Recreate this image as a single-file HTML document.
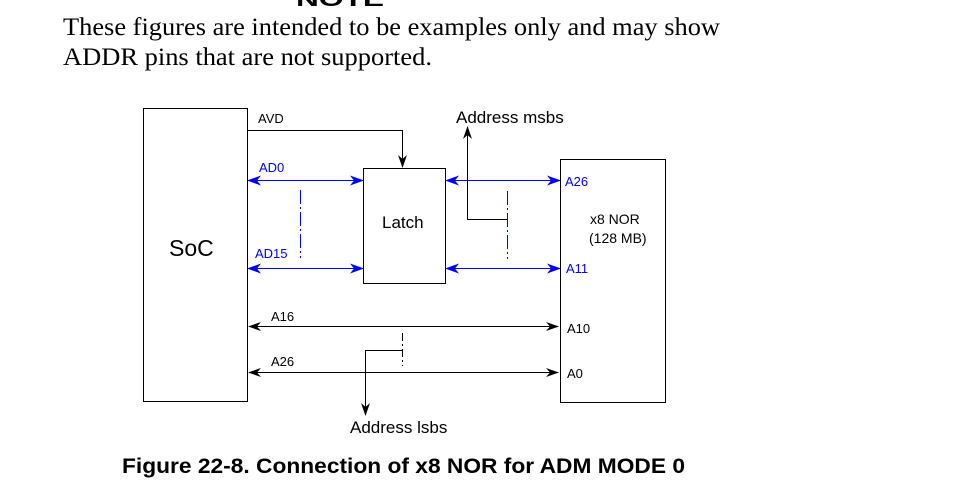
<!DOCTYPE html>
<html><head><style>
html,body{margin:0;padding:0;background:#fff;width:976px;height:492px;overflow:hidden}
</style></head><body>
<svg width="976" height="492" viewBox="0 0 976 492" xmlns="http://www.w3.org/2000/svg">
<defs>
<marker id="ab" markerWidth="14" markerHeight="10" refX="13" refY="5" orient="auto-start-reverse" markerUnits="userSpaceOnUse"><path d="M0,0 L14,5 L0,10 L4,5 Z" fill="#0000ff"/></marker>
<marker id="ak" markerWidth="13" markerHeight="9" refX="12" refY="4.5" orient="auto-start-reverse" markerUnits="userSpaceOnUse"><path d="M0,0 L13,4.5 L0,9 L4,4.5 Z" fill="#000"/></marker>
</defs>
<text x="296" y="6" font-family="Liberation Sans, sans-serif" font-weight="bold" font-size="20" textLength="88" lengthAdjust="spacingAndGlyphs">NOTE</text>
<text x="63" y="35" font-family="Liberation Serif, serif" font-size="25" textLength="657" lengthAdjust="spacingAndGlyphs">These figures are intended to be examples only and may show</text>
<text x="63" y="65" font-family="Liberation Serif, serif" font-size="25" textLength="369" lengthAdjust="spacingAndGlyphs">ADDR pins that are not supported.</text>
<g fill="none" stroke="#000" stroke-width="1">
<rect x="143.5" y="108.5" width="104" height="293"/>
<rect x="363.5" y="168.5" width="82" height="115"/>
<rect x="560.5" y="159.5" width="105" height="243"/>
<polyline points="247,130.5 402.5,130.5 402.5,167" marker-end="url(#ak)"/>
<line x1="249" y1="326.5" x2="558" y2="326.5" marker-start="url(#ak)" marker-end="url(#ak)"/>
<line x1="249" y1="372.5" x2="558" y2="372.5" marker-start="url(#ak)" marker-end="url(#ak)"/>
<polyline points="507,219.5 467.5,219.5 467.5,127" marker-end="url(#ak)"/>
<polyline points="402,350.5 365.5,350.5 365.5,415" marker-end="url(#ak)"/>
<line x1="402.5" y1="333" x2="402.5" y2="366" stroke-dasharray="8,3,2,3"/>
</g>
<g fill="none" stroke="#0000ff" stroke-width="1">
<line x1="248" y1="180.5" x2="363" y2="180.5" marker-start="url(#ab)" marker-end="url(#ab)"/>
<line x1="248" y1="268.5" x2="363" y2="268.5" marker-start="url(#ab)" marker-end="url(#ab)"/>
<line x1="446" y1="180.5" x2="560" y2="180.5" marker-start="url(#ab)" marker-end="url(#ab)"/>
<line x1="446" y1="268.5" x2="560" y2="268.5" marker-start="url(#ab)" marker-end="url(#ab)"/>
<line x1="300.5" y1="190" x2="300.5" y2="258" stroke-dasharray="14,3,2,3"/>
<line x1="507.5" y1="191" x2="507.5" y2="259" stroke-dasharray="14,3,2,3"/>
</g>
<g font-family="Liberation Sans, sans-serif" fill="#000">
<text x="258" y="123" font-size="13">AVD</text>
<text x="456" y="123" font-size="17">Address msbs</text>
<text x="169" y="256" font-size="23">SoC</text>
<text x="382" y="228" font-size="17">Latch</text>
<text x="590" y="224" font-size="14">x8 NOR</text>
<text x="589" y="243" font-size="14">(128 MB)</text>
<text x="271" y="321" font-size="13">A16</text>
<text x="271" y="366" font-size="13">A26</text>
<text x="567" y="333" font-size="13">A10</text>
<text x="567" y="378" font-size="13">A0</text>
<text x="350" y="433" font-size="17">Address lsbs</text>
<text x="122" y="473" font-size="21" font-weight="bold" textLength="563" lengthAdjust="spacingAndGlyphs">Figure 22-8. Connection of x8 NOR for ADM MODE 0</text>
</g>
<g font-family="Liberation Sans, sans-serif" fill="#0000ff" font-size="13">
<text x="259" y="172">AD0</text>
<text x="255" y="258">AD15</text>
<text x="565" y="186">A26</text>
<text x="566" y="273">A11</text>
</g>
</svg>
</body></html>
